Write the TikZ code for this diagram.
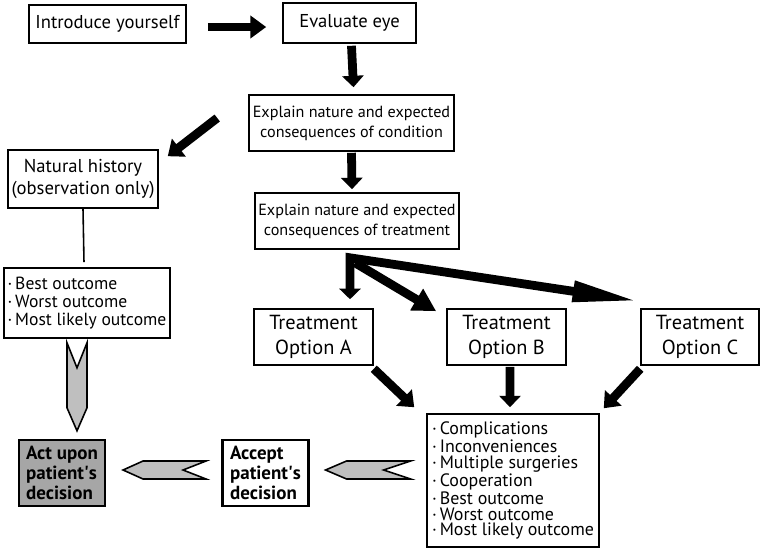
\documentclass[tikz,border=0pt]{standalone}
\usepackage{fontspec}
\setmainfont{PT Sans}
\usetikzlibrary{arrows.meta}
\tikzset{box/.style={draw, line width=0.9pt, inner sep=0pt, align=center, font=\fontsize{10.6}{12.3}\selectfont}}
\tikzset{small/.style={box, font=\fontsize{9.2}{11.3}\selectfont}}
\tikzset{option/.style={box, font=\fontsize{11.6}{14}\selectfont, minimum width=2.38cm, minimum height=1.12cm}}
\tikzset{list/.style={box, align=left, font=\fontsize{10.2}{8.9}\selectfont}}
\tikzset{decide/.style={box, align=left, line width=1.2pt, font=\bfseries\fontsize{10.8}{11.3}\selectfont, minimum width=1.72cm, minimum height=1.32cm}}
\tikzset{fat/.style={line width=5pt, -{Triangle[width=12.5pt,length=8pt]}}}
\tikzset{chevron/.style={draw, line width=0.9pt, fill=black!25, line join=miter}}

\begin{document}
\begin{tikzpicture}[x=0.02cm,y=-0.02cm]
\useasboundingbox (0,0) rectangle (762,549);
\node[box, minimum width=3.14cm, minimum height=0.76cm] (intro) at (107.5,24) {Introduce yourself};
\node[box, minimum width=2.66cm, minimum height=0.8cm] (eval) at (349.5,23) {Evaluate eye};
\node[small, minimum width=4.1cm, minimum height=1.12cm] (cond) at (351.5,123) {Explain nature and expected\\consequences of condition};
\node[small, minimum width=4.08cm, minimum height=1.12cm] (treat) at (357,221) {Explain nature and expected\\consequences of treatment};
\node[box, minimum width=3cm, minimum height=1.16cm] (natural) at (83,179) {Natural history\\(observation only)};
\node[list, font=\fontsize{10}{10.2}\selectfont, minimum width=3.32cm, minimum height=1.4cm] (outA) at (87,303) {·\,Best outcome\\·\,Worst outcome\\·\,Most likely outcome};
\node[option] (optA) at (313.5,337) {Treatment\\Option A};
\node[option] (optB) at (506.5,337) {Treatment\\Option B};
\node[option, minimum width=2.36cm] (optC) at (700,337) {Treatment\\Option C};
\node[list, minimum width=3.44cm, minimum height=2.66cm] (comp) at (513,480.5) {·\,Complications\\·\,Inconveniences\\·\,Multiple surgeries\\·\,Cooperation\\·\,Best outcome\\·\,Worst outcome\\·\,Most likely outcome};
\node[decide] (accept) at (265.5,473) {Accept\\patient\textquotesingle s\\decision};
\node[decide, fill=black!35] (act) at (62,473) {Act upon\\patient\textquotesingle s\\decision};
\coordinate (fan) at ([shift={(-7,8)}]treat.south);

\draw[fat, -{Triangle[width=12.5pt,length=9pt]}] ([shift={(21,3)}]intro.east) -- ([shift={(-16,4)}]eval.west);
\draw[fat, -{Triangle[width=12pt,length=6.5pt]}] ([shift={(2,2)}]eval.south) -- ([shift={(2,-7)}]cond.north);
\draw[fat, -{Triangle[width=12pt,length=6.5pt]}] ([shift={(0,1)}]cond.south) -- ([shift={(-5,-3)}]treat.north);
\draw[fat] ([shift={(-31,-5)}]cond.west) -- ([shift={(9,7)}]natural.north east);
\draw[line width=0.9pt] (natural.south) -- ([shift={(-3,-5)}]outA.north);
\draw[line width=5pt, line join=miter, {Triangle[width=12pt,length=6pt]}-{Triangle[width=11pt,length=38pt]}] ([shift={(36.5,-9)}]optA.north) -- (fan) -- ([shift={(-1,-7)}]optC.north west);
\draw[fat, -{Triangle[width=13.5pt,length=13pt]}] ([shift={(5,5)}]fan) -- ([shift={(-10,3)}]optB.north west);
\draw[fat] ([shift={(0,3)}]optA.south east) -- ([shift={(-12,-6)}]comp.north west);
\draw[fat, -{Triangle[width=12pt,length=6.5pt]}] ([shift={(3.5,1)}]optB.south) -- ([shift={(-3,-6)}]comp.north);
\draw[fat] ([shift={(0,3)}]optC.south west) -- ([shift={(4,-5)}]comp.north east);
\draw[chevron] ([shift={(-20,4)}]outA.south) -- ++(10,25) -- ++(10,-25) -- ++(0,65) -- ++(-10,23) -- ++(-10,-23) -- cycle;
\draw[chevron] ([shift={(17,-3)}]act.east) -- ++(20,-9) -- ++(63,0) -- ++(-23,9) -- ++(23,9) -- ++(-63,0) -- cycle;
\draw[chevron] ([shift={(16,-3)}]accept.east) -- ++(21,-9) -- ++(64,0) -- ++(-27,9) -- ++(27,9) -- ++(-64,0) -- cycle;
\end{tikzpicture}
\end{document}
